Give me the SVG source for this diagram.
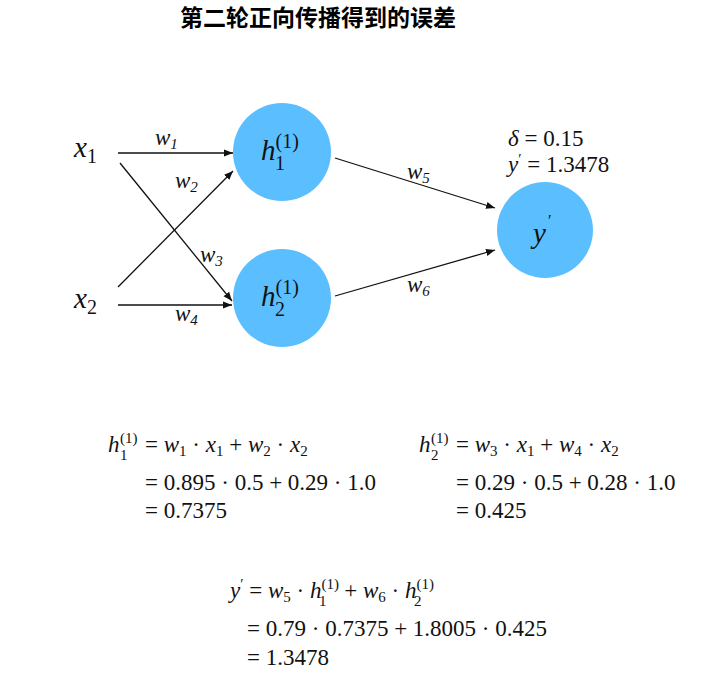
<svg xmlns="http://www.w3.org/2000/svg" width="727" height="681" viewBox="0 0 727 681" font-family="'Liberation Serif', 'Times New Roman', serif">
<style>
text{font-family:'Liberation Serif','DejaVu Serif','Times New Roman',serif}
.t{font-size:23px;fill:#111}
.i{font-style:italic}
.s{font-size:15px}
.n{fill:#5bbfff}
.c{stroke:#111;stroke-width:1.3;fill:none;marker-end:url(#a)}
</style>
<defs><marker id="a" viewBox="0 0 10 10" refX="10" refY="5" markerWidth="9" markerHeight="9" orient="auto" markerUnits="userSpaceOnUse"><path d="M0,1 L10,5 L0,9 Z" fill="#111"/></marker></defs>
<rect width="727" height="681" fill="#fff"/>
<text x="318" y="26" text-anchor="middle" style="font-family:'Noto Sans CJK SC',sans-serif;font-size:23px;font-weight:bold">第二轮正向传播得到的误差</text>
<g id="connectors">
<line class="c" x1="118" y1="153" x2="233" y2="153"/>
<line class="c" x1="120" y1="163" x2="232" y2="301"/>
<line class="c" x1="118" y1="287" x2="233" y2="171"/>
<line class="c" x1="118" y1="305" x2="232" y2="305"/>
<line class="c" x1="335" y1="158" x2="495" y2="208"/>
<line class="c" x1="335" y1="296" x2="495" y2="250"/>
<text class="t i" x="155" y="145">w<tspan class="s" dy="4">1</tspan></text>
<text class="t i" x="175" y="188">w<tspan class="s" dy="4">2</tspan></text>
<text class="t i" x="200" y="262">w<tspan class="s" dy="4">3</tspan></text>
<text class="t i" x="175" y="321">w<tspan class="s" dy="4">4</tspan></text>
<text class="t i" x="407" y="179">w<tspan class="s" dy="4">5</tspan></text>
<text class="t i" x="407" y="292">w<tspan class="s" dy="4">6</tspan></text>
</g>
<g id="x1"><text class="t i" x="74" y="157" style="font-size:29px">x<tspan style="font-size:20px;font-style:normal" dy="6">1</tspan></text></g>
<g id="x2"><text class="t i" x="74" y="308" style="font-size:29px">x<tspan style="font-size:20px;font-style:normal" dy="6">2</tspan></text></g>
<g id="h1"><circle class="n" cx="282" cy="152" r="49"/><text class="t" x="261" y="160" style="font-size:29px"><tspan class="i">h</tspan><tspan style="font-size:20px" dy="-12">(1)</tspan><tspan style="font-size:20px" x="275" dy="22">1</tspan></text></g>
<g id="h2"><circle class="n" cx="282" cy="298" r="49"/><text class="t" x="261" y="306" style="font-size:29px"><tspan class="i">h</tspan><tspan style="font-size:20px" dy="-12">(1)</tspan><tspan style="font-size:20px" x="275" dy="22">2</tspan></text></g>
<g id="y"><circle class="n" cx="545" cy="230" r="48"/><text class="t i" x="533" y="243" style="font-size:29px">y</text><text class="t" x="548" y="226" style="font-size:16px">′</text>
<text class="t" x="508" y="146"><tspan class="i">δ</tspan> = 0.15</text>
<text class="t" x="508" y="172"><tspan class="i">y</tspan><tspan class="s" dy="-8">′</tspan><tspan dy="8"> = 1.3478</tspan></text></g>
<g id="eq1">
<text class="t i" x="108" y="452">h</text><text class="t s" x="120" y="443">(1)</text><text class="t s" x="120" y="460">1</text>
<text class="t" x="145" y="452">= <tspan class="i">w</tspan><tspan class="s" dy="4">1</tspan><tspan dy="-4"> · </tspan><tspan class="i">x</tspan><tspan class="s" dy="4">1</tspan><tspan dy="-4"> + </tspan><tspan class="i">w</tspan><tspan class="s" dy="4">2</tspan><tspan dy="-4"> · </tspan><tspan class="i">x</tspan><tspan class="s" dy="4">2</tspan></text>
<text class="t" x="145" y="490">= 0.895 · 0.5 + 0.29 · 1.0</text>
<text class="t" x="145" y="518">= 0.7375</text>
</g>
<g id="eq2">
<text class="t i" x="419" y="452">h</text><text class="t s" x="431" y="443">(1)</text><text class="t s" x="431" y="460">2</text>
<text class="t" x="456" y="452">= <tspan class="i">w</tspan><tspan class="s" dy="4">3</tspan><tspan dy="-4"> · </tspan><tspan class="i">x</tspan><tspan class="s" dy="4">1</tspan><tspan dy="-4"> + </tspan><tspan class="i">w</tspan><tspan class="s" dy="4">4</tspan><tspan dy="-4"> · </tspan><tspan class="i">x</tspan><tspan class="s" dy="4">2</tspan></text>
<text class="t" x="456" y="490">= 0.29 · 0.5 + 0.28 · 1.0</text>
<text class="t" x="456" y="518">= 0.425</text>
</g>
<g id="eq3">
<text class="t" x="230" y="598"><tspan class="i">y</tspan><tspan class="s" dy="-9">′</tspan><tspan dy="9"> = </tspan><tspan class="i">w</tspan><tspan class="s" dy="4">5</tspan><tspan dy="-4"> · </tspan><tspan class="i">h</tspan><tspan class="s" dy="-9">(1)</tspan><tspan class="s" dx="-20" dy="17">1</tspan><tspan dx="12" dy="-8"> + </tspan><tspan class="i">w</tspan><tspan class="s" dy="4">6</tspan><tspan dy="-4"> · </tspan><tspan class="i">h</tspan><tspan class="s" dy="-9">(1)</tspan><tspan class="s" dx="-20" dy="17">2</tspan></text>
<text class="t" x="247" y="636">= 0.79 · 0.7375 + 1.8005 · 0.425</text>
<text class="t" x="247" y="665">= 1.3478</text>
</g>
</svg>
